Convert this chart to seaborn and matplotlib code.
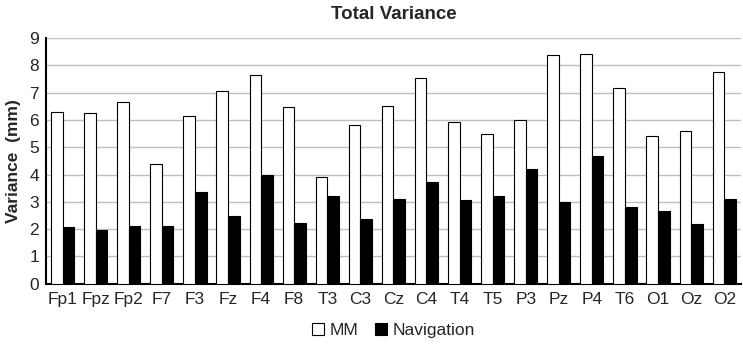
import matplotlib
matplotlib.use("Agg")
import matplotlib.pyplot as plt
import seaborn as sns
import pandas as pd

channels = ["Fp1", "Fpz", "Fp2", "F7", "F3", "Fz", "F4", "F8", "T3", "C3", "Cz",
            "C4", "T4", "T5", "P3", "Pz", "P4", "T6", "O1", "Oz", "O2"]
mm = [6.28, 6.27, 6.67, 4.40, 6.13, 7.05, 7.65, 6.48, 3.90, 5.80, 6.52,
      7.52, 5.93, 5.48, 5.98, 8.38, 8.43, 7.17, 5.40, 5.60, 7.75]
navigation = [2.08, 1.95, 2.12, 2.12, 3.37, 2.48, 4.00, 2.23, 3.23, 2.37, 3.10,
              3.72, 3.05, 3.23, 4.20, 3.00, 4.67, 2.82, 2.67, 2.20, 3.10]
series_names = ["MM", "Navigation"]

df = pd.DataFrame({
    "channel": channels * 2,
    "value": mm + navigation,
    "series": [series_names[0]] * len(channels) + [series_names[1]] * len(channels),
})

sns.set_style("white")
plt.rcParams["font.family"] = ["Liberation Sans", "DejaVu Sans"]

fig, ax = plt.subplots(figsize=(7.43, 3.46), dpi=100)
fig.subplots_adjust(left=0.062, right=0.997, top=0.89, bottom=0.18)

sns.barplot(data=df, x="channel", y="value", hue="series",
            palette={"MM": "white", "Navigation": "black"},
            edgecolor="black", linewidth=0.8, width=0.7, ax=ax, zorder=3)

ax.set_ylim(0, 9)
ax.set_yticks(range(0, 10))
ax.set_xlim(-0.5, len(channels) - 0.5)
ax.yaxis.grid(True, color="#c0c0c0", linewidth=1.0, zorder=0)
ax.set_axisbelow(True)
for s in ["top", "right"]:
    ax.spines[s].set_visible(False)
ax.spines["left"].set_color("black")
ax.spines["bottom"].set_color("black")
ax.spines["left"].set_linewidth(1.5)
ax.spines["bottom"].set_linewidth(1.5)
ax.tick_params(axis="both", labelsize=12.5, length=0)
ax.tick_params(axis="x", pad=6)
ax.tick_params(axis="y", pad=5)
ax.set_xlabel("")
ax.set_ylabel("Variance  (mm)", fontsize=12.5, fontweight="bold", labelpad=6)
ax.set_title("Total Variance", fontsize=13.5, fontweight="bold", pad=14)

handles, labels = ax.get_legend_handles_labels()
ax.legend(handles, labels, loc="upper center", bbox_to_anchor=(0.5, -0.095),
          ncol=2, frameon=False, fontsize=12.5, handlelength=0.7, handleheight=0.7,
          handletextpad=0.3, columnspacing=1.0)

fig.savefig("out.png", dpi=100)
